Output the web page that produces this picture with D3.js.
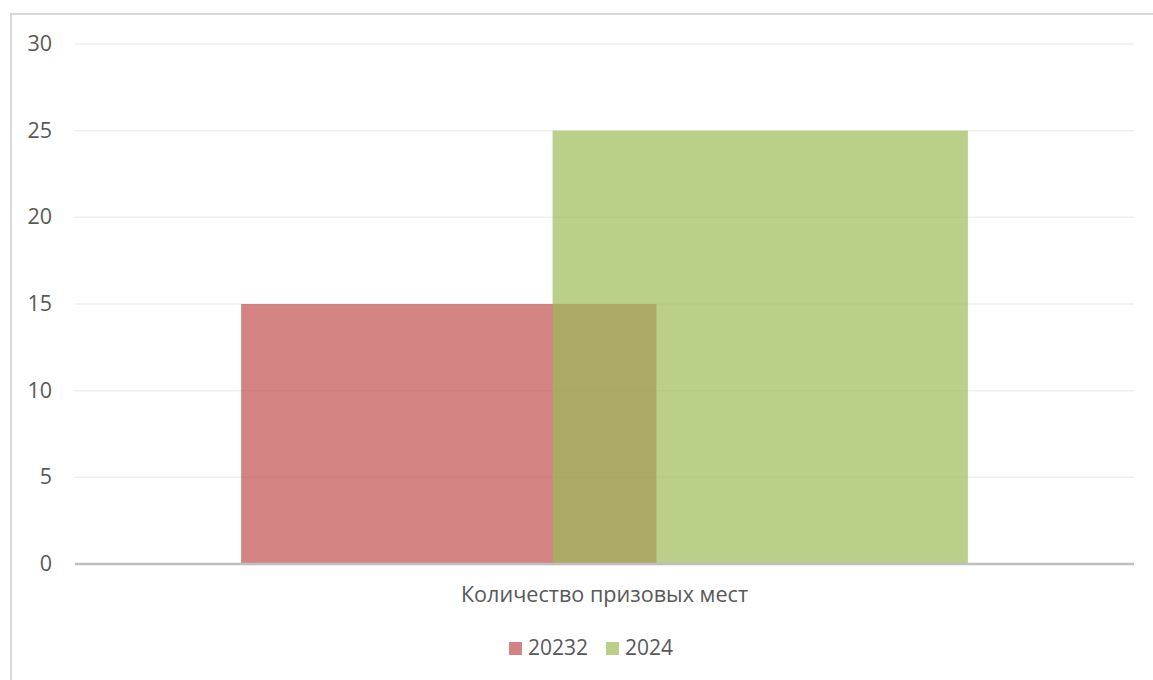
<!DOCTYPE html>
<html>
<head>
<meta charset="utf-8">
<script src="https://cdn.jsdelivr.net/npm/d3@7"></script>
<style>
    body { margin: 0; background: #fff; }
    svg { display: block; font-family: "Open Sans", sans-serif; }
</style>
</head>
<body>
<svg id="chart" width="1153" height="680"></svg>
<script>
// chart data
const categories = ["Количество призовых мест"];
const seriesNames = ["20232", "2024"];
const seriesValues = [[15], [25]];
const seriesColors = ["#c0504d", "#9bbb59"];
const yTicks = [0, 5, 10, 15, 20, 25, 30];

const svg = d3.select("#chart");
const plot = {left: 75, right: 1134, top: 44, bottom: 564};
const gapWidth = 0.8;
const overlap = 0.25;

// outer frame (right/bottom edges run off the picture)
svg.append("rect")
    .attr("x", 11)
    .attr("y", 14)
    .attr("width", 1200)
    .attr("height", 720)
    .attr("fill", "none")
    .attr("stroke", "#d9d9d9")
    .attr("stroke-width", 2);

const y = d3.scaleLinear()
    .domain([0, 30])
    .range([plot.bottom, plot.top]);

const x0 = d3.scaleBand()
    .domain(categories)
    .range([plot.left, plot.right])
    .padding(0);

const n = seriesNames.length;
const barW = x0.bandwidth() / (gapWidth + n - (n - 1) * overlap);
const groupOffset = barW * gapWidth / 2;

const x1 = d3.scaleLinear()
    .domain([0, 1])
    .range([groupOffset, groupOffset + barW * (1 - overlap)]);

// gridlines
svg.append("g")
    .selectAll("line")
    .data(yTicks.filter(t => t !== 0))
    .join("line")
    .attr("x1", plot.left)
    .attr("x2", plot.right)
    .attr("y1", d => y(d))
    .attr("y2", d => y(d))
    .attr("stroke", "#efefef")
    .attr("stroke-width", 1.5);

// y tick labels
svg.append("g")
    .style("font-size", "21.5px")
    .style("fill", "#595959")
    .selectAll("text")
    .data(yTicks)
    .join("text")
    .attr("x", 52)
    .attr("y", d => y(d) + 7)
    .attr("text-anchor", "end")
    .text(d => d);

// bars
const barData = [];
seriesNames.forEach((name, si) => {
    categories.forEach((cat, ci) => {
        barData.push({series: si, cat: cat, value: seriesValues[si][ci]});
    });
});

svg.append("g")
    .selectAll("rect")
    .data(barData)
    .join("rect")
    .attr("x", d => x0(d.cat) + x1(d.series))
    .attr("y", d => y(d.value))
    .attr("width", barW)
    .attr("height", d => y(0) - y(d.value))
    .attr("fill", d => seriesColors[d.series])
    .attr("fill-opacity", 0.7);

// baseline
svg.append("line")
    .attr("x1", plot.left)
    .attr("x2", plot.right)
    .attr("y1", y(0))
    .attr("y2", y(0))
    .attr("stroke", "#bfbfbf")
    .attr("stroke-width", 2.5);

// category label
svg.append("g")
    .style("font-size", "21.6px")
    .style("fill", "#595959")
    .selectAll("text")
    .data(categories)
    .join("text")
    .attr("x", d => x0(d) + x0.bandwidth() / 2)
    .attr("y", 602)
    .attr("text-anchor", "middle")
    .text(d => d);

// legend
const legendX = [509, 606];
const legend = svg.append("g")
    .selectAll("g")
    .data(seriesNames)
    .join("g")
    .attr("transform", (d, i) => `translate(${legendX[i]}, 642)`);

legend.append("rect")
    .attr("width", 13)
    .attr("height", 13)
    .attr("fill", (d, i) => seriesColors[i])
    .attr("fill-opacity", 0.7);

legend.append("text")
    .attr("x", 19)
    .attr("y", 13)
    .style("font-size", "21px")
    .style("fill", "#595959")
    .text(d => d);
</script>
</body>
</html>
